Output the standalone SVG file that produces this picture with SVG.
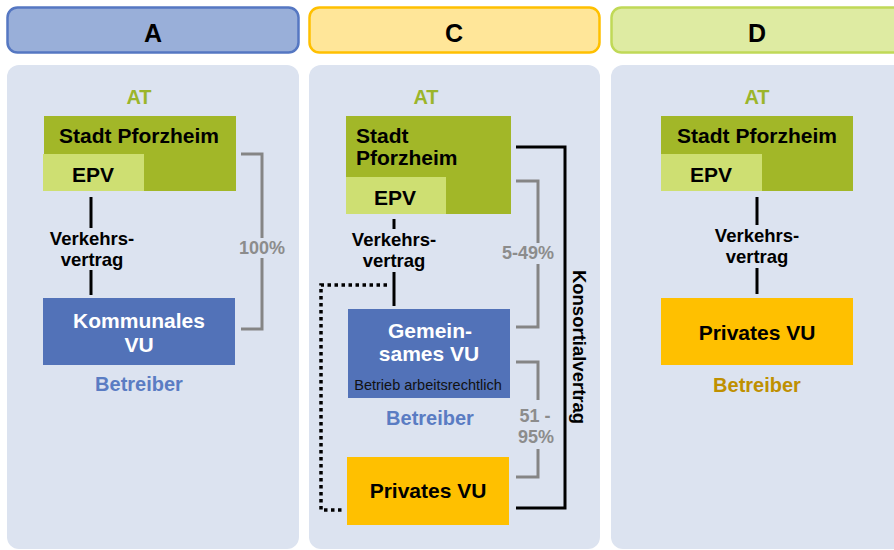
<svg xmlns="http://www.w3.org/2000/svg" width="894" height="550" viewBox="0 0 894 550">
<style>
text{font-family:"Liberation Sans",Arial,sans-serif;font-weight:bold;text-anchor:middle}
.hdr{font-size:25px;fill:#000}
.panel{fill:#DCE3F0}
.at{font-size:20px;fill:#9BB52A}
.city{fill:#A2B728}
.epv{fill:#CEDF72}
.lbl{font-size:21px;fill:#000}
.small{font-size:18.5px;fill:#000}
.wt{font-size:21px;fill:#fff}
.blue{fill:#5272B8}
.orange{fill:#FFC000}
.bt{font-size:20px;fill:#5A7CC3}
.pct{font-size:18px;fill:#8C8C8C}
.gl{fill:none;stroke:#858585;stroke-width:3}
.bl{fill:none;stroke:#000;stroke-width:3}
.dot{fill:none;stroke:#000;stroke-width:3.5;stroke-dasharray:3.5 3.5}
</style>
<rect width="894" height="550" fill="#fff"/>
<g id="headers">
<g id="hA"><rect x="7.5" y="7.5" width="291" height="45" rx="10" fill="#99AFD9" stroke="#5577C2" stroke-width="2.5"/><text class="hdr" x="153" y="42">A</text></g>
<g id="hC"><rect x="309.5" y="7.5" width="290" height="45" rx="10" fill="#FFE699" stroke="#FFC000" stroke-width="2.5"/><text class="hdr" x="454" y="42">C</text></g>
<g id="hD"><rect x="611.5" y="7.5" width="300" height="45" rx="10" fill="#DEEBA2" stroke="#C0D957" stroke-width="2.5"/><text class="hdr" x="757" y="42">D</text></g>
</g>
<g id="panels">
<rect class="panel" x="7" y="65" width="292" height="484" rx="12"/>
<rect class="panel" x="309" y="65" width="291" height="484" rx="12"/>
<rect class="panel" x="611" y="65" width="300" height="484" rx="12"/>
</g>
<g id="connectors">
<line class="bl" x1="91" y1="197" x2="91" y2="228"/>
<line class="bl" x1="91" y1="270" x2="91" y2="295"/>
<path class="gl" d="M241 154H262V238M262 258V329H241"/>
<line class="bl" x1="394" y1="219" x2="394" y2="229"/>
<line class="bl" x1="394" y1="272" x2="394" y2="306"/>
<path class="dot" d="M387 285H321V510H343"/>
<path class="gl" d="M516 181H538V243M538 264V327H516"/>
<path class="gl" d="M516 362H538V400M538 449V477H516"/>
<path class="bl" d="M516 147H565V508H516"/>
<line class="bl" x1="757" y1="197" x2="757" y2="225"/>
<line class="bl" x1="757" y1="268" x2="757" y2="294"/>
</g>
<g id="A">
<text class="at" x="139" y="104">AT</text>
<g id="A-stadt"><rect class="city" x="44" y="116" width="192" height="75"/><text class="lbl" x="139" y="143">Stadt Pforzheim</text></g>
<g id="A-epv"><rect class="epv" x="43" y="154" width="101" height="37"/><text class="lbl" x="93" y="182">EPV</text></g>
<g id="A-vv"><text class="small" x="92" y="245">Verkehrs-</text><text class="small" x="92" y="266">vertrag</text></g>
<g id="A-vu"><rect class="blue" x="43" y="298" width="192" height="67"/><text class="wt" x="139" y="328">Kommunales</text><text class="wt" x="139" y="352">VU</text></g>
<text class="bt" x="139" y="391">Betreiber</text>
<text class="pct" x="262" y="254">100%</text>
</g>
<g id="C">
<text class="at" x="426" y="104">AT</text>
<g id="C-stadt"><rect class="city" x="346" y="116" width="165" height="98"/><text class="lbl" x="356" y="143" style="text-anchor:start">Stadt</text><text class="lbl" x="356" y="165" style="text-anchor:start">Pforzheim</text></g>
<g id="C-epv"><rect class="epv" x="346" y="177" width="100" height="37"/><text class="lbl" x="395" y="205">EPV</text></g>
<g id="C-vv"><text class="small" x="394" y="246">Verkehrs-</text><text class="small" x="394" y="267">vertrag</text></g>
<g id="C-gvu"><rect class="blue" x="348" y="309" width="162" height="89"/><text class="wt" x="430" y="338">Gemein-</text><text class="wt" x="429" y="361">sames VU</text><text x="428" y="390" style="font-size:14.5px;font-weight:normal;fill:#111">Betrieb arbeitsrechtlich</text></g>
<text class="bt" x="430" y="425">Betreiber</text>
<text class="pct" x="528" y="259">5-49%</text>
<text class="pct" x="535" y="422">51 -</text>
<text class="pct" x="536" y="443">95%</text>
<text class="small" transform="translate(573,347) rotate(90)">Konsortialvertrag</text>
<g id="C-pvu"><rect class="orange" x="347" y="457" width="162" height="68"/><text class="lbl" x="428" y="498">Privates VU</text></g>
</g>
<g id="D">
<text class="at" x="757" y="104">AT</text>
<g id="D-stadt"><rect class="city" x="661" y="116" width="192" height="75"/><text class="lbl" x="757" y="143">Stadt Pforzheim</text></g>
<g id="D-epv"><rect class="epv" x="661" y="154" width="101" height="37"/><text class="lbl" x="711" y="182">EPV</text></g>
<g id="D-vv"><text class="small" x="757" y="242">Verkehrs-</text><text class="small" x="757" y="263">vertrag</text></g>
<g id="D-pvu"><rect class="orange" x="661" y="298" width="192" height="67"/><text class="lbl" x="757" y="340">Privates VU</text></g>
<text class="bt" x="757" y="392" style="fill:#BF9000">Betreiber</text>
</g>
</svg>
